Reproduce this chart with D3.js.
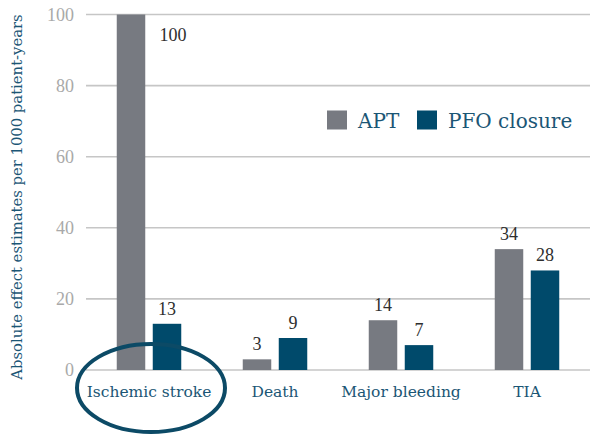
<!DOCTYPE html>
<html><head><meta charset="utf-8">
<script src="https://cdn.jsdelivr.net/npm/d3@7"></script>
<style>body{margin:0;background:#fff}svg{display:block}</style>
</head><body>
<svg id="chart" width="590" height="434"></svg>
<script>
const categories = ["Ischemic stroke", "Death", "Major bleeding", "TIA"];
const seriesNames = ["APT", "PFO closure"];
const aptValues = [100, 3, 14, 34];
const pfoValues = [13, 9, 7, 28];
const yTicks = [0, 20, 40, 60, 80, 100];
const yTitle = "Absolute effect estimates per 1000 patient-years";

const colors = {"APT": "#777a81", "PFO closure": "#004a6b"};
const teal = "#1b5675";
const wordFont = "'DejaVu Serif', serif";
const numFont = "'Liberation Serif', serif";

const svg = d3.select("#chart");
const x = d3.scaleBand().domain(categories).range([86, 590]).paddingInner(0).paddingOuter(0);
const y = d3.scaleLinear().domain([0, 100]).range([370, 14.5]);
const barW = 28.5, gap = 7.5;

// gridlines
svg.append("g").selectAll("line").data(yTicks).join("line")
  .attr("x1", 86).attr("x2", 590)
  .attr("y1", d => y(d)).attr("y2", d => y(d))
  .attr("stroke", "#c6c6c6").attr("stroke-width", 1.6);

// y tick labels
svg.append("g").selectAll("text").data(yTicks).join("text")
  .attr("x", 74).attr("y", d => y(d) + 6)
  .attr("text-anchor", "end")
  .attr("font-family", numFont).attr("font-size", 18)
  .attr("fill", "#a9a9a9").text(d => d);

// y title
svg.append("text")
  .attr("transform", "translate(22,197) rotate(-90)")
  .attr("text-anchor", "middle")
  .attr("font-family", wordFont).attr("font-size", 14.8)
  .attr("fill", teal).text(yTitle);

const rows = categories.map((c, i) => ({cat: c, vals: [
  {s: "APT", v: aptValues[i]}, {s: "PFO closure", v: pfoValues[i]}]}));

const xOff = s => s === "APT" ? -(barW + gap / 2) : gap / 2;

const g = svg.append("g").selectAll("g").data(rows).join("g");
g.selectAll("rect").data(d => d.vals.map(v => ({...v, cat: d.cat}))).join("rect")
  .attr("x", d => x(d.cat) + x.bandwidth() / 2 + xOff(d.s))
  .attr("y", d => y(d.v)).attr("width", barW)
  .attr("height", d => y(0) - y(d.v))
  .attr("fill", d => colors[d.s]);

g.selectAll("text").data(d => d.vals.map(v => ({...v, cat: d.cat}))).join("text")
  .attr("x", d => {
    const cx = x(d.cat) + x.bandwidth() / 2 + xOff(d.s) + barW / 2;
    return d.v >= 100 ? cx + 42 : cx;
  })
  .attr("y", d => d.v >= 100 ? y(d.v) + 26 : y(d.v) - 9)
  .attr("text-anchor", "middle")
  .attr("font-family", numFont).attr("font-size", 18)
  .attr("fill", "#2e2e2e").text(d => d.v);

// x labels
svg.append("g").selectAll("text").data(categories).join("text")
  .attr("x", d => x(d) + x.bandwidth() / 2).attr("y", 397)
  .attr("text-anchor", "middle")
  .attr("font-family", wordFont).attr("font-size", 15.5)
  .attr("fill", teal).text(d => d);

// highlight ellipse
svg.append("ellipse")
  .attr("cx", x(categories[0]) + x.bandwidth() / 2 + 2).attr("cy", 388)
  .attr("rx", 74).attr("ry", 44)
  .attr("fill", "none").attr("stroke", "#0c4a66").attr("stroke-width", 4);

// legend
const legend = svg.append("g");
const legX = [327, 417];
seriesNames.forEach((s, i) => {
  legend.append("rect").attr("x", legX[i]).attr("y", 110.5).attr("width", 20).attr("height", 19)
    .attr("fill", colors[s]);
  legend.append("text").attr("x", legX[i] + 31).attr("y", 128)
    .attr("font-family", wordFont).attr("font-size", 20)
    .attr("fill", teal).text(s);
});
</script>
</body></html>
